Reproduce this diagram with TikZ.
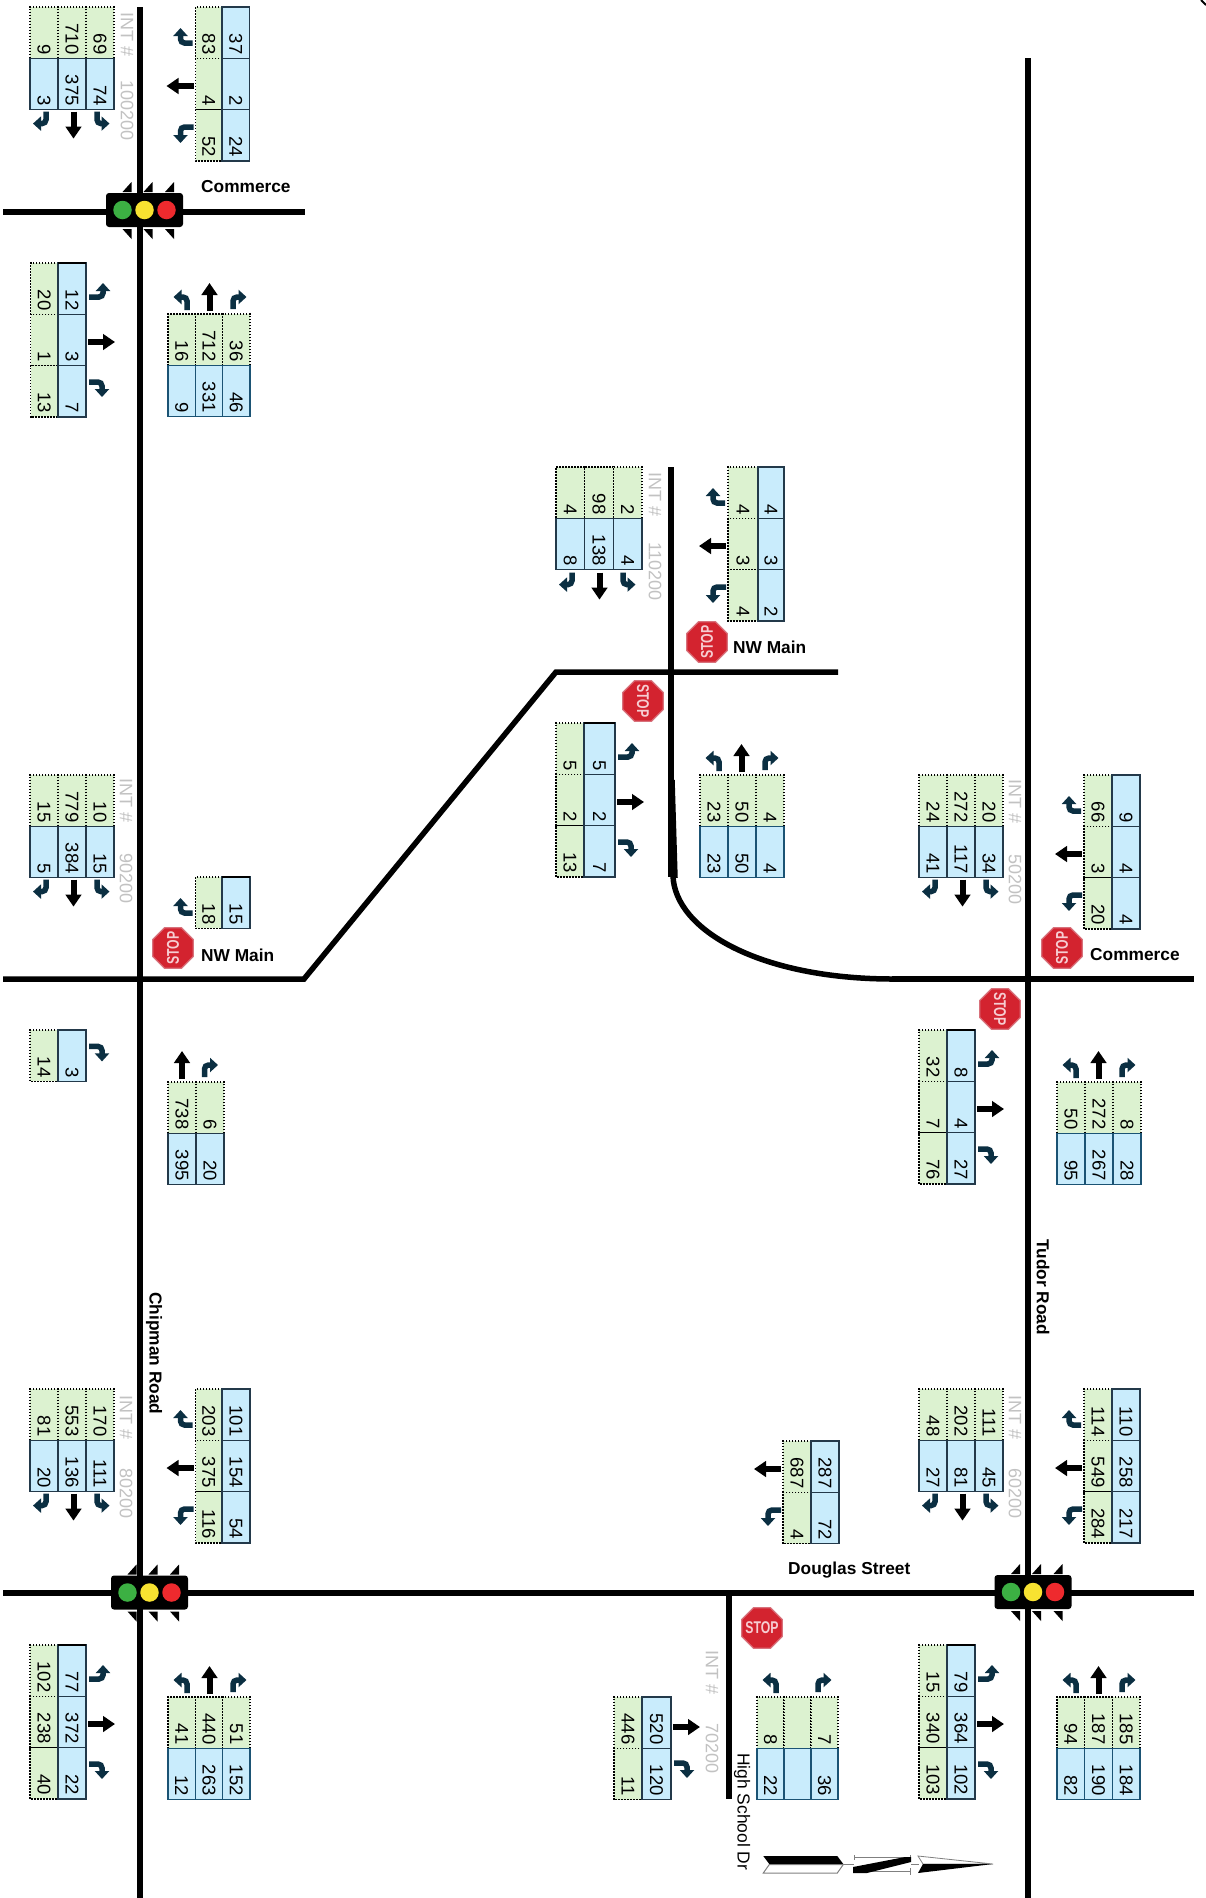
\documentclass[tikz,border=0pt]{standalone}
\usepackage{fontspec}
\setmainfont{Liberation Sans}
\newfontfamily\stopfont[FakeStretch=0.72]{Liberation Sans Bold}
\usetikzlibrary{arrows.meta,shapes.geometric}
\definecolor{cellgreen}{HTML}{DCF2D0}
\definecolor{cellblue}{HTML}{C9ECFC}
\definecolor{celldark}{HTML}{23394A}
\definecolor{cellnavy}{HTML}{1B5374}
\definecolor{turncol}{HTML}{0B2F42}
\definecolor{intgray}{HTML}{C2C2C2}
\definecolor{stopred}{HTML}{D3232F}
\definecolor{stopedge}{HTML}{D8727C}
\definecolor{stoptext}{HTML}{F6CDD2}
\tikzset{
  cellbase/.style={rotate=-90,inner xsep=4pt,inner ysep=0pt,align=right,font=\fontsize{18.5}{19}\selectfont},
  cellg/.style={cellbase,fill=cellgreen,draw=black,line width=1.3pt,dash pattern=on 1.5pt off 1.5pt},
  cellb/.style={cellbase,fill=cellblue,draw=celldark,line width=1.4pt},
  cellbn/.style={cellbase,fill=cellblue,draw=cellnavy,line width=1.4pt},
  road/.style={line width=5.5pt,black,line join=miter},
  turna/.style={line width=5.5pt,turncol,rounded corners=4pt,-{Triangle[width=14pt,length=8pt]}},
  straighta/.style={line width=6pt,black,-{Triangle[width=15.5pt,length=12pt]}},
  intlabel/.style={rotate=-90,anchor=west,inner sep=0pt,text=intgray,font=\fontsize{18}{18}\selectfont},
  streetb/.style={inner sep=0pt,font=\fontsize{17.3}{18}\selectfont\bfseries},
  stopshape/.style={regular polygon,regular polygon sides=8,minimum size=44pt,inner sep=0pt,fill=stopred,draw=stopedge,line width=1.2pt},
  stoplabel/.style={inner sep=0pt,text=stoptext,font=\fontsize{17}{18}\stopfont},
  tlbox/.style={fill=black,rounded corners=3pt,minimum width=77pt,minimum height=34pt,inner sep=0pt},
  tldot/.style={circle,minimum size=18.5pt,inner sep=0pt},
}
\newcounter{cid}
\newcommand\cell[6]{%
  \stepcounter{cid}%
  \pgfmathsetmacro\cw{#4}\pgfmathsetmacro\ch{#5}\pgfmathsetmacro\tw{#5-8}%
  \pgfmathsetmacro\ccx{#2+#4/2}\pgfmathsetmacro\ccy{#3+#5/2}%
  \node[#1,minimum width=\ch pt,minimum height=\cw pt,text width=\tw pt] (c\thecid) at (\ccx,\ccy) {#6};%
}
% horizontal table: x0,y0,cw,green,blue
\newcommand\hzt[6][cellb]{%
  \foreach[count=\i] \v in {#5}{\cell{cellg}{#2+(\i-1)*#4}{#3}{#4}{51.3}{\v}}%
  \foreach[count=\i] \v in {#6}{\cell{#1}{#2+(\i-1)*#4}{#3+51.3}{#4}{51.3}{\v}}%
}
% vertical table: x0,y0,gw,bw,green,blue
\newcommand\vrt[6]{%
  \foreach[count=\i] \v in {#5}{\cell{cellg}{#1}{#2+(\i-1)*51.3}{#3}{51.3}{\v}}%
  \foreach[count=\i] \v in {#6}{\cell{cellb}{#1+#3}{#2+(\i-1)*51.3}{#4}{51.3}{\v}}%
}
\newcommand\topbar[3]{\draw[line width=2pt,black] (#1,#3) -- (#2,#3);}
% stop sign: name,x,y,rotation
\newcommand\stopsign[4]{%
  \node[stopshape] (#1) at (#2,#3) {};
  \node[stoplabel,rotate=#4] (#1t) at (#1.center) {STOP};
}
% arrows
\newcommand\arNL[2]{\draw[turna] ({#1+19},{#2-4}) -- ({#1+19},{#2-17}) -- ({#1+5.5},{#2-17});}
\newcommand\arNS[2]{\draw[straighta] ({#1+41.5},{#2-3}) -- ({#1+41.5},{#2-31});}
\newcommand\arNR[2]{\draw[turna] ({#1+65},{#2-5}) -- ({#1+65},{#2-17}) -- ({#1+78.5},{#2-17});}
\newcommand\arSL[2]{\draw[turna] ({#1+16},{#2+2}) -- ({#1+16},{#2+14}) -- ({#1+3},{#2+14});}
\newcommand\arSS[2]{\draw[straighta] ({#1+43.5},{#2+2}) -- ({#1+43.5},{#2+29});}
\newcommand\arSR[2]{\draw[turna] ({#1+67},{#2+2}) -- ({#1+67},{#2+14}) -- ({#1+79.5},{#2+14});}
\newcommand\arET[2]{\draw[turna] ({#1+3},{#2+34}) -- ({#1+17},{#2+34}) -- ({#1+17},{#2+20});}
\newcommand\arES[2]{\draw[straighta] ({#1+2},{#2+79}) -- ({#1+29},{#2+79});}
\newcommand\arEB[2]{\draw[turna] ({#1+3},{#2+119}) -- ({#1+16},{#2+119}) -- ({#1+16},{#2+134});}
\newcommand\arWT[2]{\draw[turna] ({#1-3},{#2+36}) -- ({#1-15},{#2+36}) -- ({#1-15},{#2+21});}
\newcommand\arWS[2]{\draw[straighta] ({#1-2},{#2+79}) -- ({#1-29},{#2+79});}
\newcommand\arWB[2]{\draw[turna] ({#1-2},{#2+120}) -- ({#1-15},{#2+120}) -- ({#1-15},{#2+136});}
\newcommand\allN[2]{\arNL{#1}{#2}\arNS{#1}{#2}\arNR{#1}{#2}}
\newcommand\allS[2]{\arSL{#1}{#2}\arSS{#1}{#2}\arSR{#1}{#2}}
\newcommand\allE[2]{\arET{#1}{#2}\arES{#1}{#2}\arEB{#1}{#2}}
\newcommand\allW[2]{\arWT{#1}{#2}\arWS{#1}{#2}\arWB{#1}{#2}}
% traffic light
\newcommand\tlight[3]{%
  \node[tlbox] (#1box) at (#2,#3) {};
  \node[tldot,fill={rgb,255:red,60;green,176;blue,67}] (#1g) at ({#2-22},#3) {};
  \node[tldot,fill={rgb,255:red,248;green,226;blue,49}] (#1y) at (#2,#3) {};
  \node[tldot,fill={rgb,255:red,238;green,42;blue,46}] (#1r) at ({#2+22},#3) {};
  \foreach \o in {-13,8,29.5}{%
    \fill ({#2+\o},{#3-28}) -- ({#2+\o},{#3-18}) -- ({#2+\o-9},{#3-18}) -- cycle;
    \fill ({#2+\o},{#3+19}) -- ({#2+\o-9},{#3+19}) -- ({#2+\o},{#3+29}) -- cycle;
  }%
}
\newcommand\intlab[4]{%
  \node[intlabel] (i#4a) at (#1,#2) {INT \#};
  \node[intlabel] (i#4b) at (#1,#3) {#4};
}
\begin{document}
\begin{tikzpicture}[x=1pt,y=-1pt]
\useasboundingbox (0,0) rectangle (1206,1898);
\fill[white] (0,0) rectangle (1206,1898);
% corner mark
\draw[line width=2pt] (1201,0) -- (1206,5);
% roads
\draw[road] (140,7) -- (140,1898);
\draw[road] (1028,58) -- (1028,1898);
\draw[road] (3,212) -- (305,212);
\draw[road] (3,979) -- (304,979) -- (556,672) -- (838,672);
\draw[road] (671,467) -- (671,877);
\draw[road] (672,780) -- (675,878);
\draw[road] (673,876) .. controls (675,930) and (760,979) .. (893,979);
\draw[road] (892,979) -- (1194,979);
\draw[road] (3,1593) -- (1194,1593);
\draw[road] (729,1593) -- (729,1799);
% traffic lights
\tlight{ta}{144.5}{210}
\tlight{tb}{149.5}{1592.5}
\tlight{tc}{1033}{1592}
% stop signs
\stopsign{s1}{173}{948}{90}
\stopsign{s2}{707}{642}{90}
\stopsign{s3}{643}{701}{-90}
\stopsign{s4}{1062}{948}{90}
\stopsign{s5}{1000}{1009}{-90}
\stopsign{s6}{762}{1628}{0}
% 100200
\hzt{30}{7}{28}{9,710,69}{3,375,74}\allS{30}{109.6}
\vrt{195.5}{7}{26.5}{27.5}{83,4,52}{37,2,24}\allW{195.5}{7}
\vrt{30.5}{263}{27.5}{28}{20,1,13}{12,3,7}\topbar{58}{86}{263}\allE{86}{263}
\hzt[cellbn]{168}{314}{27.33}{16,712,36}{9,331,46}\allN{168}{314}
% 110200
\hzt{556}{467}{28.67}{4,98,2}{8,138,4}\allS{556}{570.6}
\vrt{728}{467}{30}{26}{4,3,4}{4,3,2}\allW{728}{467}
\vrt{556}{723}{28}{31}{5,2,13}{5,2,7}\topbar{584}{615}{723}\allE{615}{723}
\hzt[cellbn]{700}{775}{28}{23,50,4}{23,50,4}\allN{700}{775}
% 90200
\hzt{30}{775}{28}{15,779,10}{5,384,15}\allS{30}{877.6}
\vrt{195.5}{877}{26.5}{28}{18}{15}\topbar{222}{250}{877}\arWT{195.5}{877}
\vrt{30}{1030}{28}{28}{14}{3}\arEB{86}{927.4}
\hzt[cellb]{168}{1082}{28}{738,6}{395,20}\arNS{140.5}{1082}\arNR{139.5}{1082}
% 50200
\hzt{919}{775}{28}{24,272,20}{41,117,34}\allS{919}{877.6}
\vrt{1084}{775}{28}{28}{66,3,20}{9,4,4}\allW{1084}{775}
\vrt{919}{1030}{28}{28}{32,7,76}{8,4,27}\topbar{947}{975}{1030}\allE{975}{1030}
\hzt[cellbn]{1057}{1082}{28}{50,272,8}{95,267,28}\allN{1057}{1082}
% 80200
\hzt{30}{1389}{28}{81,553,170}{20,136,111}\allS{30}{1491.6}
\vrt{195.5}{1389}{26.5}{28}{203,375,116}{101,154,54}\allW{195.5}{1389}
\vrt{30}{1645}{28}{28}{102,238,40}{77,372,22}\topbar{58}{86}{1645}\allE{86}{1645}
\hzt[cellbn]{168}{1697}{27.33}{41,440,51}{12,263,152}\allN{168}{1697}
% 60200
\hzt{919}{1389}{28}{48,202,111}{27,81,45}\allS{919}{1491.6}
\vrt{1084}{1389}{28}{28}{114,549,284}{110,258,217}\allW{1084}{1389}
\vrt{919}{1645}{28}{28}{15,340,103}{79,364,102}\topbar{947}{975}{1645}\allE{975}{1645}
\hzt[cellbn]{1057}{1697}{27.67}{94,187,185}{82,190,184}\allN{1057}{1697}
% 70200
\vrt{614}{1697}{28}{29}{446,11}{520,120}\arES{671}{1648}\arEB{671}{1644}
\hzt[cellbn]{757}{1697}{27}{8,,7}{22,,36}\arNL{757}{1697}\arNR{753}{1697}
\vrt{783}{1441}{28}{28}{687,4}{287,72}\arWS{783}{1390}\arWB{783}{1390}
% INT labels
\intlab{127}{12}{80}{100200}
\intlab{655}{472}{542}{110200}
\intlab{126}{778}{853}{90200}
\intlab{1015}{779}{854}{50200}
\intlab{126}{1395}{1468}{80200}
\intlab{1015}{1395}{1468}{60200}
\intlab{712}{1650}{1723}{70200}
% street names
\node[streetb,anchor=west] (n1) at (201,187) {Commerce};
\node[streetb,anchor=west] (n2) at (733,647) {NW Main};
\node[streetb,anchor=west] (n3) at (201,955) {NW Main};
\node[streetb,anchor=west] (n4) at (1090,955) {Commerce};
\node[streetb,anchor=west] (n5) at (788,1570) {Douglas Street};
\node[streetb,anchor=west,rotate=-90] (n6) at (154,1292) {Chipman Road};
\node[streetb,anchor=west,rotate=-90] (n7) at (1043,1239) {Tudor Road};
\node[inner sep=0pt,anchor=west,rotate=-90,font=\fontsize{17.4}{18}\selectfont] (n8) at (742,1753) {High School Dr};
% north arrow
\fill (763.3,1856) -- (837.3,1856) -- (843.3,1864) -- (769.3,1864) -- cycle;
\draw[line width=1pt,gray] (769.3,1864.5) -- (843.3,1864.5) -- (837.3,1873) -- (763.3,1873) -- cycle;
\draw[line width=1pt,gray] (843,1864) -- (854,1864);
\draw[line width=1pt,gray] (854,1855) -- (854,1860) (854,1857) -- (910,1857) (910,1855) -- (910,1860);
\draw[line width=1pt,gray] (854,1871) -- (910,1871) (910,1868) -- (910,1875);
\fill (853,1867) -- (905,1857) -- (911,1857) -- (911,1862) -- (867,1873) -- (853,1873) -- cycle;
\draw[line width=1pt,gray] (911,1864) -- (919,1864);
\draw[line width=0.8pt,gray] (918,1856) -- (993,1864) -- (923,1864) -- cycle;
\fill (923,1864) -- (993,1864) -- (918,1873) -- cycle;
\end{tikzpicture}
\end{document}
